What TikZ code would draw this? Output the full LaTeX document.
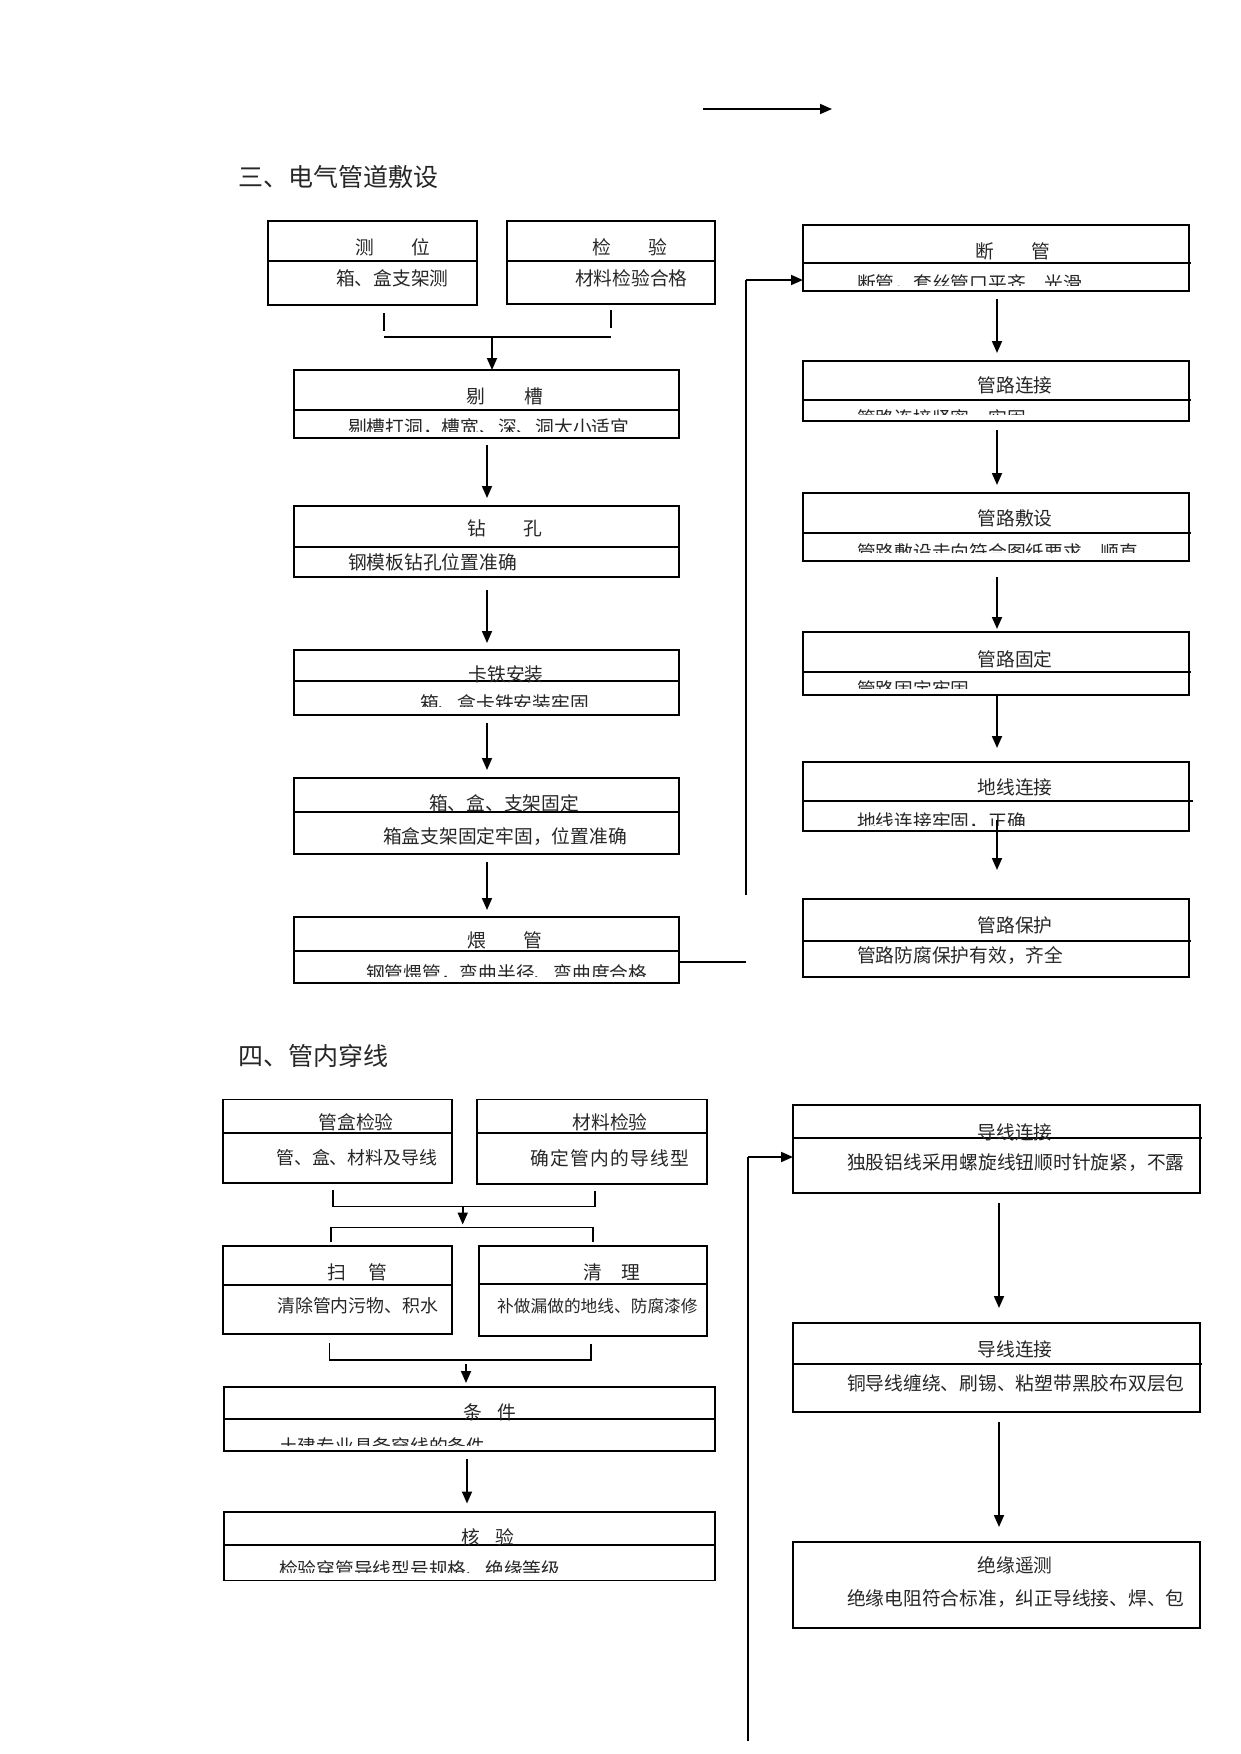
\documentclass[tikz,border=0pt]{standalone}
\usepackage{fontspec}
\newfontfamily\cjk{Noto Sans CJK SC}
\newfontfamily\cjkwide{Noto Sans CJK SC}[LetterSpace=7]
\usetikzlibrary{arrows.meta}
\tikzset{
 boxst/.style={draw, line width=1.8pt, inner sep=0pt, outer sep=0pt},
 divst/.style={line width=1.2pt},
 txt/.style={font=\cjk\fontsize{18.75}{20}\selectfont, inner sep=0pt, text=black!85},
 txts/.style={font=\cjk\fontsize{17.9}{19}\selectfont, inner sep=0pt, text=black!85},
 head/.style={font=\cjk\fontsize{25}{27}\selectfont, inner sep=0pt, text=black!85},
 conn/.style={line width=1.8pt},
 thinl/.style={line width=1.1pt},
 arr/.style={line width=1.8pt, -{Triangle[width=10pt,length=12pt]}}
}
\newcommand{\flowbox}[7]{%
 \node[boxst, anchor=north west, minimum width={#4-#2}, minimum height={#5-#3}] (#1) at (#2,#3) {};
 \draw[divst] (#2,#6) -- (#4+#7,#6);}
\newcommand{\boxtitle}[4]{\node[txt] (#1-t) at (#2,#3) {#4};}
\newcommand{\boxsub}[4]{\node[txt, anchor=west] (#1-s) at (#2,#3) {#4};}
\newcommand{\boxsubclip}[5]{%
 \begin{scope}\clip (#1.north west) rectangle (1300,#4);
 \node[txt, anchor=west] (#1-s) at (#2,#3) {#5};\end{scope}}
\begin{document}
\begin{tikzpicture}[x=1pt,y=-1pt]
\useasboundingbox (0,0) rectangle (1241,1754);
% top arrow
\coordinate (ta1) at (703,109); \coordinate (ta2) at (832,109);
\draw[arr] (ta1) -- (ta2);
% section 3
\node[head, anchor=west] (h3) at (238,177) {三、电气管道敷设};
\flowbox{ceW}{268}{221}{477}{305}{261}{0}
\flowbox{jy}{507}{221}{715}{304}{261}{0}
\flowbox{tc}{294}{370}{679}{438}{410}{0}
\flowbox{zk}{294}{506}{679}{577}{547}{0}
\flowbox{kt}{294}{650}{679}{715}{681}{0}
\flowbox{xh}{294}{778}{679}{854}{812}{0}
\flowbox{wg}{294}{917}{679}{983}{951}{1}
\flowbox{dg}{803}{225}{1189}{291}{263}{2}
\flowbox{glj}{803}{361}{1189}{421}{400}{2}
\flowbox{gls}{803}{493}{1189}{561}{533}{2}
\flowbox{glg}{803}{632}{1189}{695}{672}{2}
\flowbox{dx}{803}{762}{1189}{831}{801}{4}
\flowbox{glb}{803}{899}{1189}{977}{941}{2}
\boxtitle{ceW}{393}{247}{测\hspace{2em}位}
\boxtitle{jy}{630}{247}{检\hspace{2em}验}
\boxtitle{tc}{505}{396}{剔\hspace{2.1em}槽}
\boxtitle{zk}{505}{528}{钻\hspace{2em}孔}
\boxtitle{kt}{506}{674}{卡铁安装}
\boxtitle{xh}{504}{803}{箱、盒、支架固定}
\boxtitle{wg}{505}{940}{煨\hspace{2em}管}
\boxtitle{dg}{1013}{251}{断\hspace{2em}管}
\boxtitle{glj}{1015}{385}{管路连接}
\boxtitle{gls}{1015}{518}{管路敷设}
\boxtitle{glg}{1015}{659}{管路固定}
\boxtitle{dx}{1015}{787}{地线连接}
\boxtitle{glb}{1015}{925}{管路保护}
\boxsub{ceW}{336}{278}{箱、盒支架测}
\boxsub{jy}{575}{278}{材料检验合格}
\boxsubclip{tc}{348}{428}{431}{剔槽打洞，槽宽、深、洞大小适宜}
\boxsub{zk}{348}{562}{钢模板钻孔位置准确}
\boxsubclip{kt}{420}{703}{706}{箱、盒卡铁安装牢固}
\boxsub{xh}{383}{837}{箱盒支架固定牢固，位置准确}
\boxsubclip{wg}{366}{974}{976}{钢管煨管，弯曲半径、弯曲度合格}
\boxsubclip{dg}{857}{284}{285}{断管，套丝管口平齐、光滑}
\boxsubclip{glj}{857}{418}{414}{管路连接紧密、牢固}
\boxsubclip{gls}{857}{553}{552}{管路敷设走向符合图纸要求，顺直}
\boxsubclip{glg}{857}{689}{688}{管路固定牢固}
\boxsubclip{dx}{857}{822}{825}{地线连接牢固，正确}
\boxsub{glb}{857}{956}{管路防腐保护有效，齐全}
% bracket 1
\coordinate (b1l) at (384,337); \coordinate (b1r) at (611,337); \coordinate (b1m) at (492,337);
\draw[thinl] (ceW.south -| b1l) ++(0,8) -- ++(0,18);
\draw[thinl] (jy.south -| b1r) ++(0,6) -- ++(0,18);
\draw[thinl] (b1l) -- (b1r);
\draw[arr] (b1m) -- (tc.north -| b1m);
% left column arrows
\coordinate (colL) at (487,0);
\draw[arr, shorten <=7pt, shorten >=8pt] (tc.south -| colL) -- (zk.north -| colL);
\draw[arr, shorten <=13pt, shorten >=7pt] (zk.south -| colL) -- (kt.north -| colL);
\draw[arr, shorten <=8pt, shorten >=8pt] (kt.south -| colL) -- (xh.north -| colL);
\draw[arr, shorten <=8pt, shorten >=7pt] (xh.south -| colL) -- (wg.north -| colL);
% right column arrows
\coordinate (colR) at (997,0);
\draw[arr, shorten <=8pt, shorten >=8pt] (dg.south -| colR) -- (glj.north -| colR);
\draw[arr, shorten <=9pt, shorten >=8pt] (glj.south -| colR) -- (gls.north -| colR);
\draw[arr, shorten <=16pt, shorten >=3pt] (gls.south -| colR) -- (glg.north -| colR);
\draw[arr, shorten >=14pt] (glg.south -| colR) -- (dx.north -| colR);
\draw[arr, shorten <=-11pt, shorten >=29pt] (dx.south -| colR) -- (glb.north -| colR);
% feedback loop 1
\coordinate (fb1) at (746,962); \coordinate (fb2) at (746,895); \coordinate (fb3) at (746,280);
\draw[conn] (wg.east |- fb1) -- (fb1);
\draw[conn] (fb2) -- (fb3);
\draw[arr] (fb3) -- (fb3 -| dg.west);
% section 4
\node[head, anchor=west] (h4) at (238,1056) {四、管内穿线};
\flowbox{ghj}{223}{1099.5}{452}{1183}{1133}{0}
\flowbox{cljy}{477}{1099.5}{707}{1184}{1133}{0}
\flowbox{sg}{223}{1246}{452}{1334}{1285}{0}
\flowbox{ql}{479}{1246}{707}{1336}{1284}{0}
\flowbox{tj}{224}{1387}{715}{1451}{1419}{0}
\flowbox{hy}{224}{1512}{715}{1580.5}{1545}{0}
\flowbox{dxa}{793}{1105}{1200}{1193}{1138}{2}
\flowbox{dxb}{793}{1323}{1200}{1412}{1364}{2}
\node[boxst, anchor=north west, minimum width=407, minimum height=86] (jyyc) at (793,1542) {};
\boxtitle{ghj}{356}{1122}{管盒检验}
\boxtitle{cljy}{610}{1122}{材料检验}
\boxtitle{sg}{357}{1272.5}{扫\hspace{1.2em}管}
\boxtitle{ql}{612}{1272.5}{清\hspace{1.05em}理}
\boxtitle{tj}{490}{1412.5}{条\hspace{0.85em}件}
\boxtitle{hy}{488}{1537.5}{核\hspace{0.85em}验}
\boxtitle{dxa}{1015}{1132}{导线连接}
\boxtitle{dxb}{1015}{1349}{导线连接}
\boxtitle{jyyc}{1015}{1565}{绝缘遥测}
\node[txts, anchor=west] (ghj-s) at (276,1158) {管、盒、材料及导线};
\node[txt, font=\cjkwide\fontsize{18.75}{20}\selectfont, anchor=west] (cljy-s) at (530,1158) {确定管内的导线型};
\node[txts, anchor=west] (sg-s) at (277,1306) {清除管内污物、积水};
\node[txt, font=\cjk\fontsize{16.7}{18}\selectfont, anchor=west] (ql-s) at (497,1306) {补做漏做的地线、防腐漆修};
\boxsubclip{tj}{279}{1446}{1445}{土建专业具备穿线的条件}
\boxsubclip{hy}{279}{1569.5}{1572}{检验穿管导线型号规格、绝缘等级}
\boxsub{dxa}{847}{1163}{独股铝线采用螺旋线钮顺时针旋紧，不露}
\boxsub{dxb}{847}{1383}{铜导线缠绕、刷锡、粘塑带黑胶布双层包}
\boxsub{jyyc}{847}{1599}{绝缘电阻符合标准，纠正导线接、焊、包}
% brackets section 4
\coordinate (b2l) at (333,1206.5); \coordinate (b2r) at (595,1206.5); \coordinate (b2m) at (462.7,1206.5);
\draw[thinl] (ghj.south -| b2l) ++(0,7) -- (b2l) -- (b2r) -- ++(0,-16);
\coordinate (b3l) at (331,1227.5); \coordinate (b3r) at (593,1227.5); \coordinate (b3m) at (462.7,1227.5);
\draw[arr, shorten >=3pt] (b2m) -- (b3m);
\draw[conn] (b3l) ++(0,14.5) -- (b3l) -- (b3r) -- ++(0,14.5);
\coordinate (b4l) at (329.5,1360); \coordinate (b4r) at (591,1360); \coordinate (b4m) at (466,1360);
\draw[thinl] (sg.south -| b4l) ++(0,9) -- (b4l) -- (b4r) -- ++(0,-16);
\draw[arr, shorten <=4pt, shorten >=4pt] (b4m) -- (tj.north -| b4m);
\coordinate (colT) at (467,0);
\draw[arr, shorten <=7.5pt, shorten >=8.5pt] (tj.south -| colT) -- (hy.north -| colT);
\coordinate (colS) at (999,0);
\draw[arr, shorten <=10pt, shorten >=15pt] (dxa.south -| colS) -- (dxb.north -| colS);
\draw[arr, shorten <=10pt, shorten >=15pt] (dxb.south -| colS) -- (jyyc.north -| colS);
% feedback loop 2
\coordinate (fb4) at (748,1157); \coordinate (fb5) at (748,1741);
\draw[conn] (fb5) -- (fb4);
\draw[arr] (fb4) -- (fb4 -| dxa.west);
\end{tikzpicture}
\end{document}
